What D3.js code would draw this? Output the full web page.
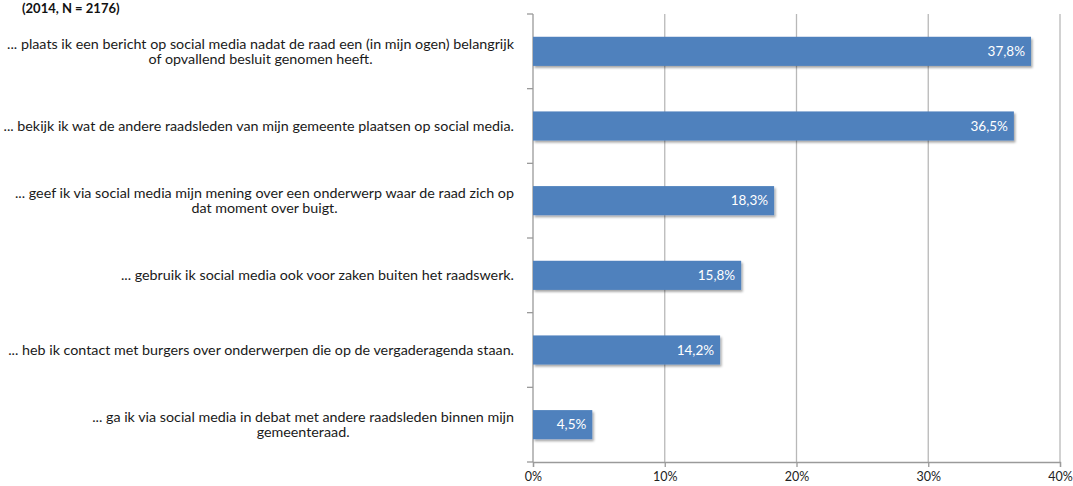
<!DOCTYPE html>
<html><head><meta charset="utf-8">
<script src="https://cdn.jsdelivr.net/npm/d3@7"></script>
<style>
html,body{margin:0;padding:0;background:#fff;}
svg{display:block;}
</style></head>
<body>
<script>
const title = "(2014, N = 2176)";
const categories = [
  ["... plaats ik een bericht op social media nadat de raad een (in mijn ogen) belangrijk", "of opvallend besluit genomen heeft."],
  ["... bekijk ik wat de andere raadsleden van mijn gemeente plaatsen op social media."],
  ["... geef ik via social media mijn mening over een onderwerp  waar de raad zich op", "dat moment over buigt."],
  ["... gebruik ik social media ook voor zaken buiten het raadswerk."],
  ["... heb ik contact met burgers over onderwerpen  die op de vergaderagenda staan."],
  ["... ga ik via social media in debat met andere raadsleden binnen mijn", "gemeenteraad."]
];
const values = [37.8, 36.5, 18.3, 15.8, 14.2, 4.5];
const xTicks = [0, 10, 20, 30, 40];

(function () {
const W = 1073, H = 486;
const pLeft = 533, pRight = 1060, pTop = 14, pBottom = 462;
const font = "Lato, 'Open Sans', sans-serif";

const nl = d3.formatLocale({decimal: ",", thousands: ".", grouping: [3], currency: ["€", ""]});
const fmt = d => nl.format(".1f")(d) + "%";

const svg = d3.select("body").append("svg").attr("width", W).attr("height", H);
const defs = svg.append("defs");
const f = defs.append("filter").attr("id", "sh").attr("x", "-10%").attr("y", "-30%").attr("width", "130%").attr("height", "180%");
f.append("feDropShadow").attr("dx", 1.5).attr("dy", 2).attr("stdDeviation", 1.2).attr("flood-color", "#000").attr("flood-opacity", 0.35);

const x = d3.scaleLinear().domain([0, 40]).range([pLeft, pRight]);
const y = d3.scaleBand().domain(d3.range(categories.length)).range([pTop, pBottom]).paddingInner(0.61).paddingOuter(0.305);

// gridlines
svg.append("g").selectAll("line").data(xTicks.slice(1)).join("line")
  .attr("x1", d => x(d)).attr("x2", d => x(d)).attr("y1", pTop).attr("y2", pBottom)
  .attr("stroke", "#b8b8b8").attr("stroke-width", 1.3);

// x axis
const xAxis = d3.axisBottom(x).tickValues(xTicks).tickSize(5).tickFormat(d => d + "%");
const gx = svg.append("g").attr("transform", `translate(0,${pBottom})`).call(xAxis);
gx.select(".domain").attr("stroke", "#9a9a9a").attr("stroke-width", 1.3);
gx.selectAll(".tick line").attr("stroke", "#9a9a9a").attr("stroke-width", 1.3);
gx.selectAll("text").attr("font-family", font).attr("font-size", 12.5).attr("fill", "#222").attr("dy", "0.35em").attr("y", 15);

// y axis with ticks at band boundaries
const boundaries = d3.range(categories.length + 1).map(i => pTop + i * (pBottom - pTop) / categories.length);
const gy = svg.append("g");
gy.append("line").attr("x1", pLeft).attr("x2", pLeft).attr("y1", pTop).attr("y2", pBottom).attr("stroke", "#9a9a9a").attr("stroke-width", 1.3);
gy.selectAll("line.t").data(boundaries).join("line").attr("class", "t")
  .attr("x1", pLeft - 6).attr("x2", pLeft).attr("y1", d => d).attr("y2", d => d)
  .attr("stroke", "#9a9a9a").attr("stroke-width", 1.3);

// bars
svg.append("g").selectAll("rect").data(values).join("rect")
  .attr("x", x(0)).attr("y", (d, i) => y(i)).attr("width", d => x(d) - x(0)).attr("height", y.bandwidth())
  .attr("fill", "#4f81bd").attr("filter", "url(#sh)");

// value labels
svg.append("g").selectAll("text").data(values).join("text")
  .attr("x", d => x(d) - 6).attr("y", (d, i) => y(i) + y.bandwidth() / 2).attr("dy", "0.35em")
  .attr("text-anchor", "end").attr("font-family", font).attr("font-size", 13.5).attr("fill", "#fff")
  .text(d => fmt(d));

// category labels (block right-aligned, lines centered within block)
const labelRight = 514, lh = 15.5;
const lg = svg.append("g");
categories.forEach((lines, i) => {
  const cy = y(i) + y.bandwidth() / 2;
  const t = lg.append("text").attr("font-family", font).attr("font-size", 14.3).attr("fill", "#1a1a1a");
  const spans = lines.map((s, j) => t.append("tspan").text(s).attr("y", cy + (j - (lines.length - 1) / 2) * lh).attr("dy", "0.35em"));
  const maxW = d3.max(spans, s => s.node().getComputedTextLength());
  const cx = labelRight - maxW / 2;
  spans.forEach(s => s.attr("x", cx).attr("text-anchor", "middle"));
});

// title (at the very top, as in the reference)
svg.append("text").attr("x", 22).attr("y", 13).attr("font-family", font).attr("font-weight", "bold")
  .attr("font-size", 13).attr("fill", "#111").text(title);
})();
</script>
</body></html>
